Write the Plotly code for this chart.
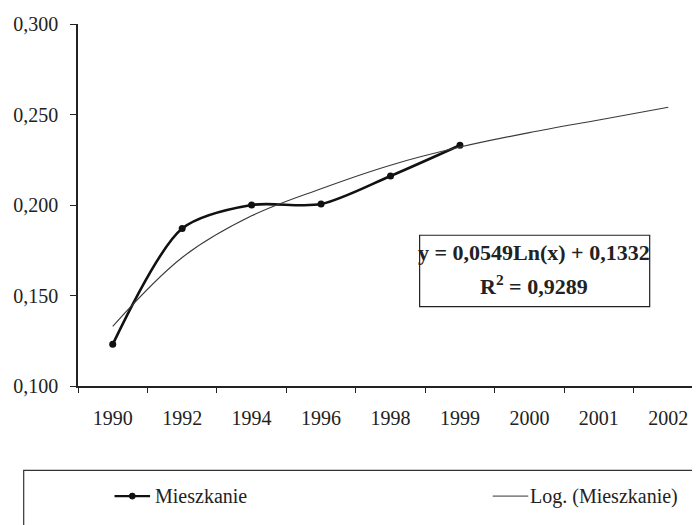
import plotly.graph_objects as go

years = ["1990", "1992", "1994", "1996", "1998", "1999", "2000", "2001", "2002"]
mieszkanie_years = ["1990", "1992", "1994", "1996", "1998", "1999"]
mieszkanie = [0.123, 0.187, 0.200, 0.2005, 0.216, 0.233]
# logarithmic trend line values
trend = [0.133, 0.171, 0.194, 0.209, 0.222, 0.232, 0.240, 0.247, 0.254]
y_ticks = [0.100, 0.150, 0.200, 0.250, 0.300]
series_names = ["Mieszkanie", "Log. (Mieszkanie)"]
equation_lines = ["y = 0,0549Ln(x) + 0,1332", "R<sup>2</sup> = 0,9289"]

FONT = "Liberation Serif"
INK = "#222222"
W, H = 700, 525
OFF = 8  # page body margin: figure is drawn 8px right/down in the window
L, R, T, B = 62, 5, 13, 147


def px(x):
    # x in window pixels -> paper coordinate
    return (x - OFF - L) / (W - L - R)


def py(y):
    # y in window pixels -> paper coordinate
    return (H - B - (y - OFF)) / (H - T - B)


fig = go.Figure()
fig.add_trace(go.Scatter(
    x=mieszkanie_years, y=mieszkanie, name=series_names[0],
    mode="lines+markers", line=dict(color="#111111", width=2.6, shape="spline", smoothing=0.8),
    marker=dict(size=7, color="#111111"),
))
fig.add_trace(go.Scatter(
    x=years, y=trend, name=series_names[1],
    mode="lines", line=dict(color="#3a3a3a", width=1.1, shape="spline"),
))

fig.update_layout(
    width=W, height=H,
    margin=dict(l=L, r=R, t=T, b=B),
    paper_bgcolor="white", plot_bgcolor="white",
    separators=", ",
    font=dict(family=FONT, size=20, color=INK),
    showlegend=False,
    xaxis=dict(
        type="category", categoryorder="array", categoryarray=years,
        range=[-0.5, 8.5], tickson="boundaries",
        ticks="outside", ticklen=5, tickcolor=INK, tickwidth=1.3,
        showline=True, linecolor=INK, linewidth=1.5,
        showgrid=False, zeroline=False, ticklabelstandoff=13,
        tickfont=dict(family=FONT, size=20, color=INK),
    ),
    yaxis=dict(
        range=[0.100, 0.300], tickvals=y_ticks, tickformat=".3f",
        ticks="outside", ticklen=6, tickcolor=INK, tickwidth=1.3,
        showline=True, linecolor=INK, linewidth=1.5,
        showgrid=False, zeroline=False, ticklabelstandoff=8,
        tickfont=dict(family=FONT, size=20, color=INK),
    ),
)

# equation box
fig.add_shape(type="rect", xref="paper", yref="paper",
              x0=px(416), x1=px(649), y0=py(306), y1=py(234),
              line=dict(color=INK, width=1.2), fillcolor="white", layer="above")
fig.add_annotation(xref="paper", yref="paper", x=px(532), y=py(251),
                   xanchor="center", yanchor="middle",
                   text="<b>" + equation_lines[0] + "</b>",
                   showarrow=False, font=dict(family=FONT, size=22, color=INK))
fig.add_annotation(xref="paper", yref="paper", x=px(532), y=py(284),
                   xanchor="center", yanchor="middle",
                   text="<b>" + equation_lines[1] + "</b>",
                   showarrow=False, font=dict(family=FONT, size=22, color=INK))

# legend frame
fig.add_shape(type="rect", xref="paper", yref="paper",
              x0=px(15), x1=px(720), y0=py(545), y1=py(471),
              line=dict(color="#333333", width=1.2), fillcolor="rgba(0,0,0,0)")
# legend item 1: line with marker
LY = 497
fig.add_shape(type="line", xref="paper", yref="paper",
              x0=px(107), x1=px(143), y0=py(LY), y1=py(LY),
              line=dict(color="#111111", width=2.2))
fig.add_shape(type="circle", xref="paper", yref="paper",
              x0=px(122), x1=px(128), y0=py(LY + 3), y1=py(LY - 3),
              line=dict(color="#111111", width=1), fillcolor="#111111")
fig.add_annotation(xref="paper", yref="paper", x=px(146), y=py(LY),
                   xanchor="left", yanchor="middle", text=series_names[0], showarrow=False,
                   font=dict(family=FONT, size=20, color=INK))
# legend item 2: thin line
fig.add_shape(type="line", xref="paper", yref="paper",
              x0=px(490), x1=px(526), y0=py(LY), y1=py(LY),
              line=dict(color="#333333", width=1))
fig.add_annotation(xref="paper", yref="paper", x=px(526), y=py(LY),
                   xanchor="left", yanchor="middle", text=series_names[1], showarrow=False,
                   font=dict(family=FONT, size=20, color=INK))

fig.write_html("out.html")
